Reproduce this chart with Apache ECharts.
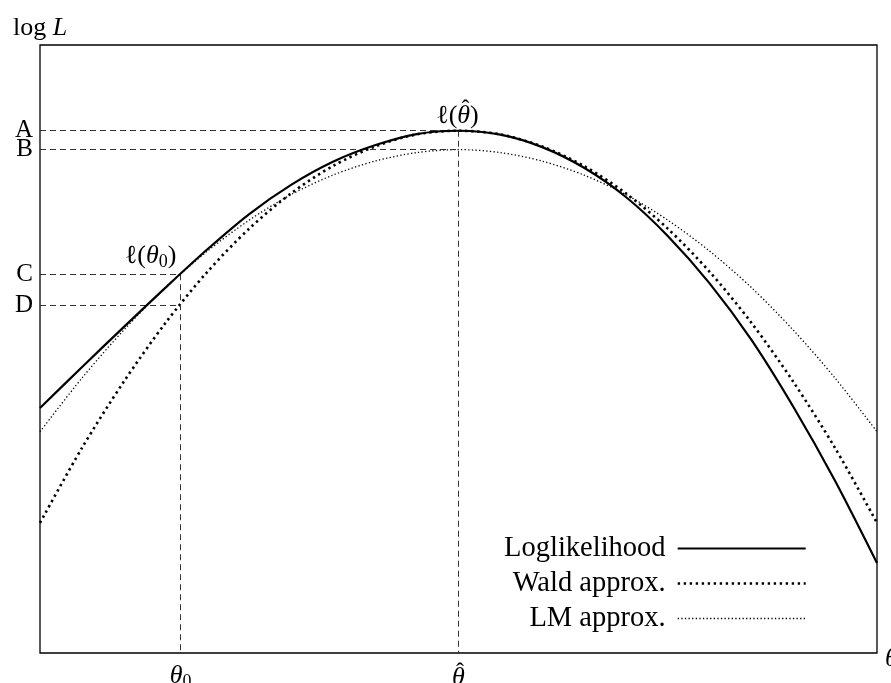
<!DOCTYPE html>
<html>
<head>
<meta charset="utf-8">
<script src="https://cdn.jsdelivr.net/npm/echarts@6/dist/echarts.min.js"></script>
<style>html,body{margin:0;padding:0;background:#fff}#c{width:891px;height:683px}</style>
</head>
<body>
<div id="c"></div>
<script>
// ---- data ----
const theta = [0,0.5,1,1.5,2,2.5,3,3.5,4,4.5,5,5.5,6,6.5,7,7.5,8,8.5,9,9.5,10];
const loglik = [4.03,4.70,5.36,6.01,6.64,7.22,7.70,8.08,8.35,8.535,8.59,8.525,8.32,7.98,7.50,6.86,6.08,5.15,4.05,2.83,1.48];
const wald   = [2.14,3.37,4.46,5.43,6.27,6.98,7.56,8.01,8.33,8.53,8.59,8.53,8.33,8.01,7.56,6.98,6.27,5.43,4.46,3.37,2.14];
const lm     = [3.64,4.52,5.31,6.01,6.61,7.12,7.54,7.86,8.09,8.23,8.28,8.23,8.09,7.86,7.54,7.12,6.61,6.01,5.31,4.52,3.64];
const theta0 = 1.68, thetaHat = 5;
const levelNames = ['A','B','C','D'];
const levelValues = [8.59, 8.28, 6.23, 5.72];
const seriesNames = ['Loglikelihood','Wald approx.','LM approx.'];

const serif = '"Liberation Serif","DejaVu Serif",serif';
const pair = (xs, ys) => xs.map((x, i) => [x, ys[i]]);
const dash = {color:'#333', width:1, type:[6,4]};
const lvl = n => levelValues[levelNames.indexOf(n)];
const llStyle = {color:'#000', width:2.2};
const waldStyle = {color:'#000', width:2.6, type:[2.4,3.6]};
const lmStyle = {color:'#000', width:1.3, type:[1.3,2.3]};
const levelLabel = n => ({show:true, position:'start', distance:7, formatter:n, fontFamily:serif, fontSize:25, color:'#000'});
const noLabel = {show:false};

const chart = echarts.init(document.getElementById('c'), null, {renderer:'canvas'});
chart.setOption({
  animation: false,
  backgroundColor: '#fff',
  grid: {left:40, right:14, top:45, bottom:30, show:true, borderColor:'#000', borderWidth:1.3, containLabel:false, outerBoundsMode:'none'},
  xAxis: {
    type:'value', min:0, max:10,
    axisLine:{show:false}, axisTick:{show:false}, splitLine:{show:false},
    name:'{s| }\n{t|θ}', nameLocation:'end', nameGap:8,
    nameTextStyle:{rich:{s:{fontSize:1, lineHeight:12}, t:{fontFamily:serif, fontStyle:'italic', fontSize:26, color:'#000', lineHeight:20}}},
    axisLabel:{
      customValues:[theta0, thetaHat], margin:15, color:'#000', showMinLabel:true, showMaxLabel:true,
      formatter: v => v === theta0 ? '{sp| }\n{it|θ}{sub|0}' : '{hat|ˆ}\n{it2|θ}',
      rich:{
        sp:{fontSize:1, lineHeight:7},
        it:{fontFamily:serif, fontStyle:'italic', fontSize:26, color:'#000', lineHeight:2},
        sub:{fontFamily:serif, fontSize:18, color:'#000', padding:[12,0,0,0], lineHeight:2},
        hat:{fontFamily:serif, fontSize:24, color:'#000', lineHeight:9, padding:[0,0,0,3]},
        it2:{fontFamily:serif, fontStyle:'italic', fontSize:26, color:'#000', lineHeight:2}
      }
    }
  },
  yAxis: {
    type:'value', min:0, max:10,
    axisLine:{show:false}, axisTick:{show:false}, splitLine:{show:false}, axisLabel:{show:false},
    name:'{rm|log }{it|L}', nameLocation:'end', nameGap:4,
    nameTextStyle:{align:'center',
      rich:{rm:{fontFamily:serif, fontSize:26, color:'#000'}, it:{fontFamily:serif, fontStyle:'italic', fontSize:26, color:'#000'}}}
  },
  legend: {
    orient:'vertical', right:79, top:529, align:'right', itemGap:6,
    itemWidth:128, itemHeight:14,
    textStyle:{fontFamily:serif, fontSize:28.5, color:'#000'},
    itemStyle:{opacity:0},
    formatter: name => name + ' ',
    data: [
      {name: seriesNames[0], lineStyle:llStyle, itemStyle:{opacity:0}},
      {name: seriesNames[1], lineStyle:waldStyle, itemStyle:{opacity:0}},
      {name: seriesNames[2], lineStyle:lmStyle, itemStyle:{opacity:0}}
    ]
  },
  series: [
    {
      name: seriesNames[0], type:'line', data: pair(theta, loglik), smooth:0.3, showSymbol:false, symbol:'none', clip:false,
      lineStyle:llStyle, itemStyle:{color:'#000'}, z:5,
      markLine:{
        silent:true, symbol:['none','none'], label:{show:false}, lineStyle:dash,
        data:[
          [{coord:[0, lvl('A')], label:levelLabel('A')}, {coord:[thetaHat, lvl('A')]}],
          [{coord:[0, lvl('B')], label:levelLabel('B')}, {coord:[thetaHat, lvl('B')]}],
          [{coord:[0, lvl('C')], label:levelLabel('C')}, {coord:[theta0, lvl('C')]}],
          [{coord:[0, lvl('D')], label:levelLabel('D')}, {coord:[theta0, lvl('D')]}],
          [{coord:[theta0, lvl('C')], label:noLabel}, {coord:[theta0, 0]}],
          [{coord:[thetaHat, lvl('A')], label:noLabel}, {coord:[thetaHat, 0]}]
        ]
      },
      markPoint:{
        silent:true, symbol:'circle', symbolSize:0,
        label:{show:true, color:'#000'},
        data:[
          {coord:[theta0, lvl('C')], label:{offset:[-30,-18], formatter:'{rm|ℓ(}{it|θ}{sub|0}{rm|)}',
            rich:{rm:{fontFamily:serif, fontSize:26, color:'#000'}, it:{fontFamily:serif, fontStyle:'italic', fontSize:26, color:'#000'}, sub:{fontFamily:serif, fontSize:18, color:'#000', padding:[12,0,0,0]}}}},
          {coord:[thetaHat, lvl('A')], label:{offset:[-1,-15], formatter:'{rm|ℓ(}{it|θ}{rm|)}',
            rich:{rm:{fontFamily:serif, fontSize:26, color:'#000'}, it:{fontFamily:serif, fontStyle:'italic', fontSize:26, color:'#000'}}}},
          {coord:[thetaHat, lvl('A')], label:{offset:[7,-21], formatter:'ˆ', fontFamily:serif, fontSize:24, color:'#000'}}
        ]
      }
    },
    {
      name: seriesNames[1], type:'line', data: pair(theta, wald), smooth:0.3, showSymbol:false, symbol:'none', clip:false,
      lineStyle:waldStyle, itemStyle:{color:'#000'}, z:4
    },
    {
      name: seriesNames[2], type:'line', data: pair(theta, lm), smooth:0.3, showSymbol:false, symbol:'none', clip:false,
      lineStyle:lmStyle, itemStyle:{color:'#000'}, z:3
    }
  ]
});
</script>
</body>
</html>
